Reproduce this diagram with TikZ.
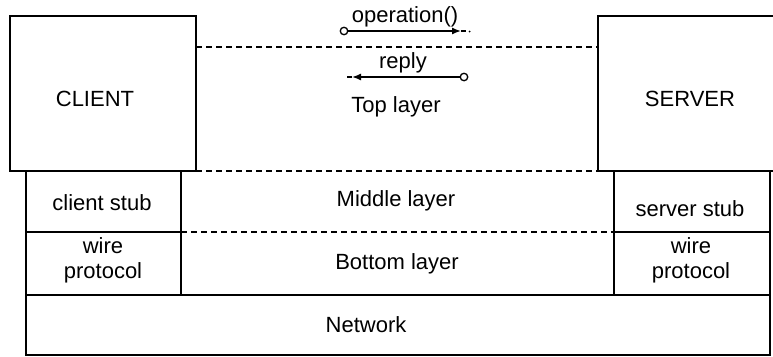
\documentclass[tikz,border=0pt]{standalone}
\usepackage{fontspec}
\setmainfont{Liberation Sans}
\usetikzlibrary{arrows.meta,calc}

\tikzset{
  box/.style={draw, line width=1.6pt, rectangle, anchor=north west, inner sep=0pt, outer sep=0pt},
  txt/.style={inner sep=0pt, outer sep=0pt, align=center, font=\fontsize{22}{25}\selectfont},
  layerline/.style={line width=1.4pt, dash pattern=on 6pt off 4pt},
  msg/.style={line width=1.4pt},
  port/.style={circle, draw, line width=1.3pt, fill=white, minimum size=7.5pt, inner sep=0pt},
  tip/.style={-{Latex[length=9pt,width=7pt]}}
}

\begin{document}
\begin{tikzpicture}[x=1pt,y=-1pt]
  \useasboundingbox (0,0) rectangle (773,356);

  % protocol stack cells
  \node[box, minimum width=155pt, minimum height=61pt] (cstub) at (26,171) {};
  \node[box, minimum width=155pt, minimum height=63pt] (cwire) at (26,232) {};
  \node[box, minimum width=156pt, minimum height=61pt] (sstub) at (614,171) {};
  \node[box, minimum width=156pt, minimum height=63pt] (swire) at (614,232) {};
  \node[box, minimum width=744pt, minimum height=60pt] (net) at (26,295) {};

  % application boxes
  \node[box, fill=white, minimum width=186pt, minimum height=155pt] (client) at (10,16) {};
  \node[box, fill=white, minimum width=177pt, minimum height=155pt] (server) at (598,16) {};

  % layer separators
  \coordinate (cl) at ($(client.north east)+(0,31)$);
  \coordinate (sl) at ($(server.north west)+(0,31)$);
  \draw[layerline] (cl) -- (sl);
  \draw[layerline] (client.south east) -- (server.south west);
  \draw[layerline] (cstub.south east) -- (sstub.south west);

  % labels
  \node[txt] (clienttext) at (95,99) {CLIENT};
  \node[txt] (servertext) at (690,99) {SERVER};
  \node[txt] (optext) at (405,17) {operation()};
  \node[txt] (replytext) at (403,63) {reply};
  \node[txt] (toptext) at (396,107) {Top layer};
  \node[txt] (midtext) at (396,201) {Middle layer};
  \node[txt] (bottext) at (397,264) {Bottom layer};
  \node[txt] (nettext) at (366,325) {Network};
  \node[txt] (cstubtext) at (102,203) {client stub};
  \node[txt] (cwiretext) at (103,260) {wire\\protocol};
  \node[txt] (sstubtext) at (690,209) {server stub};
  \node[txt] (swiretext) at (691,260) {wire\\protocol};

  % request message
  \coordinate (opend) at (466,31);
  \coordinate (optip) at (461,31);
  \node[port] (opstart) at (344,31) {};
  \draw[msg, tip] (opstart) -- (optip);
  \draw[msg] (optip) -- (opend);
  \fill (469.5,31.5) circle (1pt);

  % reply message
  \coordinate (rpend) at (347,77);
  \coordinate (rptip) at (352,77);
  \node[port] (rpstart) at (464,77) {};
  \draw[msg, tip] (rpstart) -- (rptip);
  \draw[msg] (rptip) -- (rpend);
\end{tikzpicture}
\end{document}
